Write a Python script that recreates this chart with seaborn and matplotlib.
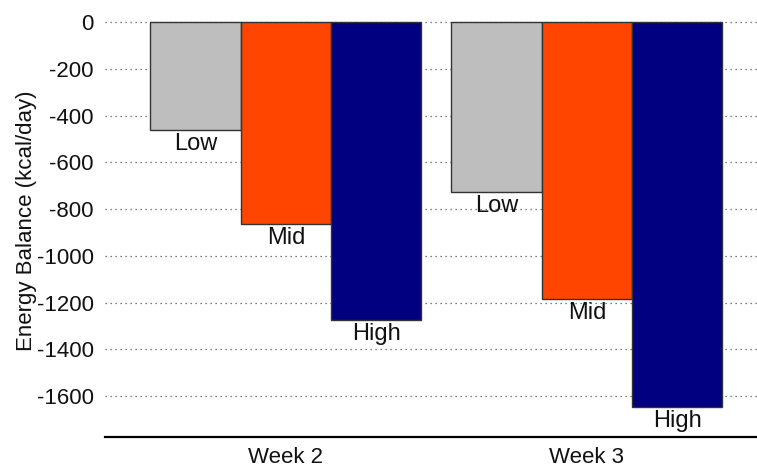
import matplotlib
matplotlib.use("Agg")
import matplotlib.pyplot as plt
import seaborn as sns
import pandas as pd

weeks = ["Week 2", "Week 3"]
levels = ["Low", "Mid", "High"]
low_vals = [-462, -727]
mid_vals = [-864, -1185]
high_vals = [-1275, -1647]
yticks = [0, -200, -400, -600, -800, -1000, -1200, -1400, -1600]
colors = {"Low": "#BEBEBE", "Mid": "#FF4500", "High": "#000080"}

rows = []
for lvl, vals in zip(levels, [low_vals, mid_vals, high_vals]):
    for w, v in zip(weeks, vals):
        rows.append({"week": w, "level": lvl, "value": v})
df = pd.DataFrame(rows)

sns.set_style("white")
plt.rcParams["font.family"] = ["Liberation Sans", "DejaVu Sans"]

fig = plt.figure(figsize=(7.57, 4.67), dpi=100)
top_px = 22 - 8 * 0.23375
ax = fig.add_axes([105 / 757, 1 - 437 / 467, 1 - 105 / 757, (437 - top_px) / 467])

sns.barplot(data=df, x="week", y="value", hue="level", hue_order=levels,
            order=weeks, palette=colors, width=0.9, edgecolor="#333333",
            linewidth=1, errorbar=None, legend=False, ax=ax, zorder=3,
            saturation=1)

for cont, lvl in zip(ax.containers, levels):
    ax.bar_label(cont, labels=[lvl] * len(cont), padding=2, fontsize=17,
                 color="#111111")

ax.set_xlim(-0.601, 1.565)
ax.set_ylim(-1775, 8)
ax.set_yticks(yticks)
ax.set_yticklabels([str(t) for t in yticks])
ax.yaxis.grid(True, linestyle=(0, (1, 3)), color="#555555", linewidth=0.9, zorder=0)
ax.xaxis.grid(False)
ax.set_axisbelow(True)
for s in ["left", "right", "top"]:
    ax.spines[s].set_visible(False)
ax.spines["bottom"].set_color("black")
ax.spines["bottom"].set_linewidth(1.6)
ax.tick_params(axis="both", length=0, labelsize=16, colors="#111111")
ax.tick_params(axis="y", pad=8)
ax.tick_params(axis="x", pad=7)
ax.set_xlabel("")
ax.set_ylabel("Energy Balance (kcal/day)", fontsize=16, color="#111111")
ax.yaxis.set_label_coords((37 - 105) / 652, 0.518)

fig.savefig("out.png", dpi=100)
